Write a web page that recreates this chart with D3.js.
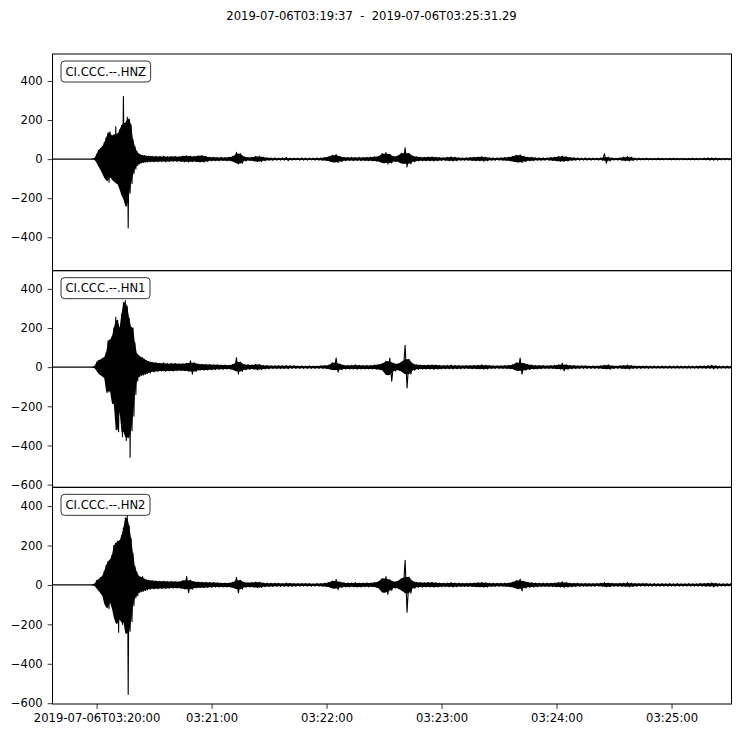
<!DOCTYPE html>
<html><head><meta charset="utf-8">
<script src="https://cdn.jsdelivr.net/npm/d3@7"></script>
<style>body{margin:0;background:#fff}svg{display:block}</style>
</head><body>
<script>
const startTime = "2019-07-06T03:19:37Z";
const endTime = "2019-07-06T03:25:31.290Z";
const titleText = "2019-07-06T03:19:37  -  2019-07-06T03:25:31.29";
const traceNames = ["CI.CCC.--.HNZ", "CI.CCC.--.HN1", "CI.CCC.--.HN2"];
const yDomains = [[-571, 538], [-614, 493], [-604, 495]];
const yTicksHNZ = [-400, -200, 0, 200, 400];
const yTicksHN1 = [-600, -400, -200, 0, 200, 400];
const yTicksHN2 = [-600, -400, -200, 0, 200, 400];
const xTickTimes = ["2019-07-06T03:20:00Z", "2019-07-06T03:21:00Z", "2019-07-06T03:22:00Z", "2019-07-06T03:23:00Z", "2019-07-06T03:24:00Z", "2019-07-06T03:25:00Z"];
const xTickLabels = ["2019-07-06T03:20:00", "03:21:00", "03:22:00", "03:23:00", "03:24:00", "03:25:00"];

// seconds after start time
const sampleSeconds = [0,10,20,
22,23,24,25,26,27,28,29,30,31,32,33,34,35,36,37,38,39,40,41,42,43,44,45,46,47,48,49,50,
52,54,56,58,60,62,64,66,68,70,
72,74,76,78,80,82,84,86,88,90,
92,94,96,98,100,102,104,106,108,110,
112,114,116,118,120,122,124,126,128,130,
132,134,136,138,140,142,144,146,148,150,
152,154,156,158,160,162,164,166,168,170,
172,174,176,178,180,182,184,186,188,190,
192,194,196,198,200,202,204,206,208,210,
212,214,216,218,220,222,224,226,228,230,
232,234,236,238,240,242,244,246,248,250,
252,254,256,258,260,262,264,266,268,270,
272,274,276,278,280,282,284,286,288,290,
292,294,296,298,300,302,304,306,308,310,
312,314,316,318,320,322,324,326,328,330,
332,334,336,338,340,342,344,346,348,350,
352,354];

// upper / lower excursion of each trace around each sample time
const hnzHi = [0,0,0,
5,25,45,55,65,85,110,135,140,120,125,165,130,150,172,320,185,215,205,175,100,65,40,28,22,20,18,16,16,
15,14,13,15,12,13,14,12,16,18,
15,14,17,19,14,10,9,8,9,8,
9,14,35,28,12,8,10,14,15,10,
7,6,6,5,6,9,5,5,5,6,
5,5,5,6,6,8,12,20,24,14,
9,8,9,8,9,8,9,10,12,14,
28,34,25,14,16,30,58,30,16,12,
10,9,11,12,9,8,7,9,12,9,
7,6,7,8,9,11,13,10,7,6,
6,7,8,10,14,20,22,14,10,9,
7,6,7,6,8,10,13,16,12,8,
7,6,5,6,5,5,5,6,28,10,
6,5,6,10,13,9,5,5,4,5,
4,4,5,4,4,4,5,4,4,4,
4,5,4,4,5,6,7,6,4,4,
4,4];
const hnzLo = [0,0,0,
-5,-18,-38,-55,-75,-95,-110,-118,-92,-105,-115,-122,-130,-155,-185,-205,-240,-352,-175,-125,-75,-50,-33,-25,-20,-17,-16,-15,-14,
-14,-13,-12,-14,-12,-11,-13,-11,-14,-15,
-13,-12,-15,-16,-12,-9,-8,-8,-7,-8,
-8,-12,-25,-22,-10,-7,-9,-12,-13,-8,
-6,-6,-5,-5,-5,-8,-5,-4,-5,-5,
-5,-4,-5,-5,-6,-7,-10,-16,-18,-12,
-8,-7,-8,-7,-8,-7,-8,-9,-10,-12,
-20,-26,-20,-12,-14,-22,-40,-24,-14,-10,
-9,-8,-9,-10,-8,-7,-6,-8,-10,-8,
-6,-6,-6,-7,-8,-9,-11,-9,-6,-6,
-5,-6,-7,-8,-12,-16,-18,-12,-9,-8,
-6,-6,-6,-5,-7,-9,-11,-12,-10,-7,
-6,-5,-5,-5,-5,-4,-5,-5,-20,-9,
-5,-5,-5,-8,-10,-7,-5,-4,-4,-4,
-4,-4,-4,-4,-3,-4,-4,-4,-3,-4,
-4,-4,-4,-3,-4,-5,-6,-5,-4,-3,
-4,-3];

const hn1Hi = [0,0,0,
5,25,35,38,45,50,75,135,140,155,200,255,240,200,270,330,340,310,250,205,200,125,70,60,52,48,40,34,30,
25,22,20,22,18,20,19,17,18,20,
32,22,16,15,14,13,12,12,11,11,
10,14,48,26,14,12,11,15,14,9,
8,7,7,8,7,8,7,7,6,7,
6,7,6,6,7,8,10,22,46,16,
10,9,10,12,10,9,10,9,11,13,
18,30,46,20,16,26,112,40,18,12,
11,10,11,12,11,9,8,9,11,9,
8,7,8,8,9,10,12,10,8,7,
7,7,8,9,12,22,46,20,13,11,
9,8,8,7,8,9,12,20,12,9,
8,7,7,7,6,7,6,7,10,12,
7,6,7,8,11,8,6,6,6,6,
5,6,5,6,5,6,5,6,5,5,
6,5,5,6,6,7,10,7,5,5,
5,5];
const hn1Lo = [0,0,0,
-5,-20,-34,-40,-48,-55,-130,-125,-120,-185,-190,-320,-330,-225,-355,-330,-375,-360,-460,-325,-250,-140,-70,-48,-42,-40,-36,-32,-30,
-24,-22,-20,-21,-19,-20,-18,-17,-18,-20,
-36,-22,-16,-15,-14,-13,-12,-11,-11,-10,
-10,-13,-36,-22,-13,-11,-10,-14,-12,-9,
-8,-7,-7,-7,-7,-8,-6,-7,-6,-6,
-6,-6,-6,-6,-6,-7,-9,-14,-26,-13,
-10,-9,-9,-11,-10,-9,-9,-9,-10,-12,
-16,-40,-72,-20,-15,-22,-106,-36,-16,-11,
-10,-10,-10,-12,-10,-9,-8,-8,-10,-8,
-8,-7,-7,-8,-8,-9,-11,-9,-7,-7,
-6,-7,-7,-8,-10,-18,-36,-16,-12,-10,
-9,-8,-7,-7,-7,-8,-10,-19,-11,-8,
-7,-7,-6,-7,-6,-6,-6,-7,-9,-11,
-7,-6,-6,-8,-10,-7,-6,-6,-5,-6,
-5,-5,-5,-5,-5,-5,-5,-5,-5,-5,
-5,-5,-5,-5,-6,-6,-9,-6,-5,-5,
-5,-5];

const hn2Hi = [0,0,0,
5,22,28,38,45,70,100,120,128,150,200,212,222,225,250,290,340,352,300,235,160,95,65,45,40,42,30,26,24,
22,20,18,19,17,18,17,16,22,42,
24,16,15,14,13,12,12,11,10,10,
10,14,38,24,13,11,12,15,14,10,
9,8,8,8,7,9,8,7,7,7,
7,7,6,7,7,9,12,20,28,15,
11,10,10,12,10,10,11,10,12,16,
32,42,26,16,18,32,125,40,18,13,
12,11,12,13,11,10,9,10,12,10,
9,8,8,9,10,11,13,11,9,8,
8,8,9,10,14,22,30,18,13,11,
10,9,9,8,9,10,12,16,12,9,
8,8,7,8,7,7,7,8,12,10,
8,7,8,9,12,9,7,7,7,7,
6,7,6,7,6,7,6,7,6,6,
7,6,6,7,7,8,11,8,6,6,
6,6];
const hn2Lo = [0,0,0,
-5,-18,-30,-42,-55,-95,-115,-120,-88,-120,-165,-195,-240,-175,-200,-190,-245,-555,-235,-185,-105,-65,-55,-38,-34,-32,-28,-25,-22,
-20,-19,-18,-18,-17,-16,-16,-16,-20,-40,
-22,-15,-14,-14,-13,-12,-11,-11,-10,-10,
-10,-14,-40,-22,-12,-11,-11,-14,-13,-9,
-8,-8,-7,-8,-7,-8,-7,-7,-6,-7,
-6,-7,-6,-6,-7,-8,-11,-18,-24,-13,
-10,-10,-9,-11,-10,-9,-10,-9,-11,-15,
-38,-48,-28,-16,-17,-28,-138,-42,-17,-12,
-11,-10,-11,-12,-10,-9,-8,-9,-11,-9,
-8,-8,-8,-8,-9,-10,-12,-10,-8,-8,
-7,-7,-8,-9,-12,-20,-30,-16,-12,-10,
-9,-8,-8,-8,-8,-9,-11,-14,-11,-9,
-8,-7,-7,-7,-7,-7,-6,-7,-10,-9,
-7,-7,-7,-8,-10,-8,-7,-6,-6,-6,
-6,-6,-6,-6,-6,-6,-6,-6,-6,-6,
-6,-6,-6,-6,-7,-7,-10,-7,-6,-6,
-5,-5];

const traces = [
  {name: traceNames[0], hi: hnzHi, lo: hnzLo, dom: yDomains[0], ticks: yTicksHNZ},
  {name: traceNames[1], hi: hn1Hi, lo: hn1Lo, dom: yDomains[1], ticks: yTicksHN1},
  {name: traceNames[2], hi: hn2Hi, lo: hn2Lo, dom: yDomains[2], ticks: yTicksHN2}
];

const W = 741, H = 737;
const FONT = "DejaVu Sans";
const FS = 11.6;
const TICK = 4.9, PAD = 4.9;
const left = 52.5, right = 731.5, top0 = 54, bottom = 704;
const ph = (bottom - top0) / 3;

const svg = d3.select("body").append("svg").attr("width", W).attr("height", H)
  .style("font-family", FONT);

const tStart = new Date(startTime), tEnd = new Date(endTime);
const x = d3.scaleUtc().domain([tStart, tEnd]).range([left, right]);
const toDate = s => new Date(tStart.getTime() + s * 1000);

svg.append("text").attr("x", 371.5).attr("y", 20).attr("text-anchor", "middle")
  .attr("font-size", FS).attr("fill", "#000").attr("xml:space", "preserve")
  .style("white-space", "pre").text(titleText);

const fmt = d => d < 0 ? "\u2212" + Math.abs(d) : String(d);

traces.forEach((tr, i) => {
  const y0 = top0 + i * ph, y1 = y0 + ph;
  const y = d3.scaleLinear().domain(tr.dom).range([y1, y0]);
  const g = svg.append("g");
  const clipId = "clip" + i;
  svg.append("clipPath").attr("id", clipId).append("rect")
    .attr("x", left).attr("y", y0).attr("width", right - left).attr("height", ph);

  const n = sampleSeconds.length;
  // solid body of the envelope (isolated single-sample spikes are left to the line)
  const bodyHi = k => Math.min(tr.hi[k], Math.max(tr.hi[Math.max(0, k - 1)], tr.hi[Math.min(n - 1, k + 1)]));
  const bodyLo = k => Math.max(tr.lo[k], Math.min(tr.lo[Math.max(0, k - 1)], tr.lo[Math.min(n - 1, k + 1)]));
  const area = d3.area()
    .x((d, k) => x(toDate(sampleSeconds[k])))
    .y0((d, k) => y(bodyLo(k)))
    .y1((d, k) => y(bodyHi(k)));
  g.append("path").attr("clip-path", `url(#${clipId})`)
    .attr("d", area(sampleSeconds)).attr("fill", "#000").attr("stroke", "none");

  // oscillating trace: maximum at each sample time, minimum half-way to the next sample
  const pts = [];
  sampleSeconds.forEach((s, k) => {
    const next = k < n - 1 ? sampleSeconds[k + 1] : s + (s - sampleSeconds[k - 1]);
    pts.push([s, tr.hi[k]]);
    pts.push([(s + next) / 2, tr.lo[k]]);
  });
  const line = d3.line().x(d => x(toDate(d[0]))).y(d => y(d[1]));
  g.append("path").attr("clip-path", `url(#${clipId})`)
    .attr("d", line(pts)).attr("fill", "none").attr("stroke", "#000")
    .attr("stroke-width", 1.1).attr("stroke-linejoin", "round");

  // label box
  const lg = svg.append("g");
  const txt = lg.append("text").attr("x", left + 13).attr("y", y0 + 21.5)
    .attr("font-size", FS).attr("fill", "#000").text(tr.name);
  const bb = txt.node().getBBox();
  lg.insert("rect", "text").attr("x", bb.x - 4.5).attr("y", y0 + 7)
    .attr("width", bb.width + 9).attr("height", 21).attr("rx", 3.5)
    .attr("fill", "#fff").attr("fill-opacity", 0.8)
    .attr("stroke", "#000").attr("stroke-opacity", 0.8).attr("stroke-width", 1);

  // y axis
  const ay = svg.append("g").attr("transform", `translate(${left},0)`)
    .call(d3.axisLeft(y).tickValues(tr.ticks).tickSize(TICK).tickPadding(PAD).tickFormat(fmt));
  ay.select(".domain").remove();
  ay.selectAll("text").attr("font-size", FS).attr("font-family", FONT).attr("fill", "#000");
  ay.selectAll("line").attr("stroke", "#000").attr("stroke-width", 0.8);

  // frame
  svg.append("rect").attr("x", left).attr("y", y0).attr("width", right - left).attr("height", ph)
    .attr("fill", "none").attr("stroke", "#000").attr("stroke-width", 1);

  if (i === 2) {
    const ax = svg.append("g").attr("transform", `translate(0,${y1})`)
      .call(d3.axisBottom(x).tickValues(xTickTimes.map(s => new Date(s))).tickSize(TICK).tickPadding(PAD)
        .tickFormat((d, k) => xTickLabels[k]));
    ax.select(".domain").remove();
    ax.selectAll("text").attr("font-size", FS).attr("font-family", FONT).attr("fill", "#000");
    ax.selectAll("line").attr("stroke", "#000").attr("stroke-width", 0.8);
  }
});
</script>
</body></html>
